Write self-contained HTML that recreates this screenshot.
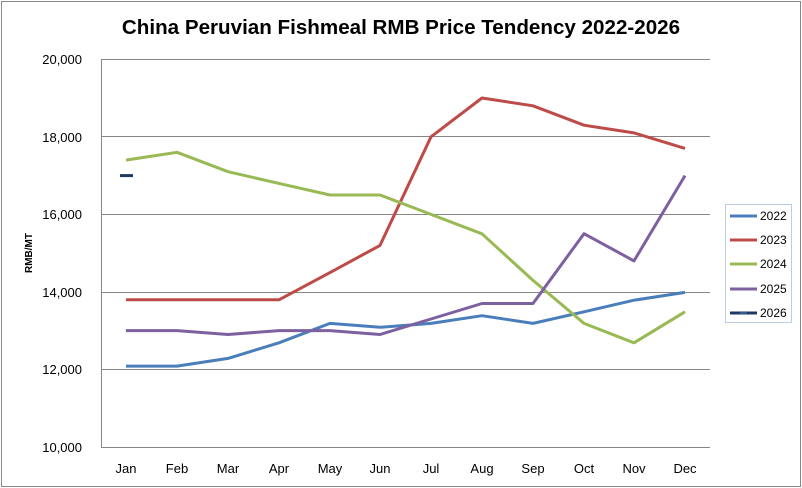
<!DOCTYPE html>
<html><head><meta charset="utf-8"><style>body{margin:0;background:#fff}svg{display:block}text{font-family:"Liberation Sans",sans-serif}</style></head><body>
<svg width="802" height="488" xmlns="http://www.w3.org/2000/svg">
<rect x="1.5" y="1.5" width="799" height="485" fill="#fff" stroke="#888"/>
<text x="401" y="34" text-anchor="middle" font-size="20.6" font-weight="bold" fill="#000">China Peruvian Fishmeal RMB Price Tendency 2022-2026</text>
<g stroke="#868686" stroke-width="1">
<line x1="101" y1="59.5" x2="710" y2="59.5"/>
<line x1="101" y1="136.5" x2="710" y2="136.5"/>
<line x1="101" y1="214.5" x2="710" y2="214.5"/>
<line x1="101" y1="292.5" x2="710" y2="292.5"/>
<line x1="101" y1="369.5" x2="710" y2="369.5"/>
<line x1="101" y1="447.5" x2="710" y2="447.5"/>
<line x1="101.5" y1="59" x2="101.5" y2="447"/>
</g>
<g font-size="13" text-anchor="end" fill="#000">
<text x="82" y="64">20,000</text><text x="82" y="142">18,000</text><text x="82" y="219">16,000</text><text x="82" y="297">14,000</text><text x="82" y="374">12,000</text><text x="82" y="452">10,000</text>
</g>
<text transform="translate(32,253) rotate(-90)" text-anchor="middle" font-size="10" font-weight="bold">RMB/MT</text>
<g font-size="13" text-anchor="middle">
<text x="126" y="473">Jan</text><text x="177" y="473">Feb</text><text x="228" y="473">Mar</text><text x="279" y="473">Apr</text><text x="330" y="473">May</text><text x="380" y="473">Jun</text><text x="431" y="473">Jul</text><text x="482" y="473">Aug</text><text x="533" y="473">Sep</text><text x="584" y="473">Oct</text><text x="634" y="473">Nov</text><text x="685" y="473">Dec</text>
</g>
<g fill="none" stroke-width="3" stroke-linejoin="round">
<polyline stroke="#4a7ebb" points="126,366.1 177,366.1 228,358.4 279,342.8 330,323.4 380,327.3 431,323.4 482,315.7 533,323.4 584,311.8 634,300.2 685,292.4"/>
<polyline stroke="#be4b48" points="126,299.8 177,299.8 228,299.8 279,299.8 330,272.6 380,245.4 431,136.8 482,98 533,105.8 584,125.2 634,132.9 685,148.4"/>
<polyline stroke="#98b954" points="126,160.1 177,152.3 228,171.7 279,183.4 330,195 380,195 431,214.4 482,233.8 533,280.4 584,323.4 634,342.8 685,311.8"/>
<polyline stroke="#7d60a0" points="126,330.6 177,330.6 228,334.5 279,330.6 330,330.6 380,334.5 431,319 482,303.5 533,303.5 584,233.7 634,260.9 685,175.6"/>
<line stroke="#1f3864" x1="120" y1="175.6" x2="133" y2="175.6"/>
</g>
<rect x="725.5" y="204.5" width="66" height="118" fill="#fff" stroke="#b9cde5"/>
<g stroke-width="3">
<line x1="730" y1="216" x2="757" y2="216" stroke="#4a7ebb"/>
<line x1="730" y1="240" x2="757" y2="240" stroke="#be4b48"/>
<line x1="730" y1="264" x2="757" y2="264" stroke="#98b954"/>
<line x1="730" y1="289" x2="757" y2="289" stroke="#7d60a0"/>
<line x1="730" y1="313" x2="757" y2="313" stroke="#1f3864"/>
</g>
<line x1="740" y1="313" x2="747" y2="313" stroke="#4a7ebb" stroke-width="1"/>
<g font-size="12">
<text x="760" y="220">2022</text><text x="760" y="244">2023</text><text x="760" y="268">2024</text><text x="760" y="293">2025</text><text x="760" y="317">2026</text>
</g>
</svg>
</body></html>
